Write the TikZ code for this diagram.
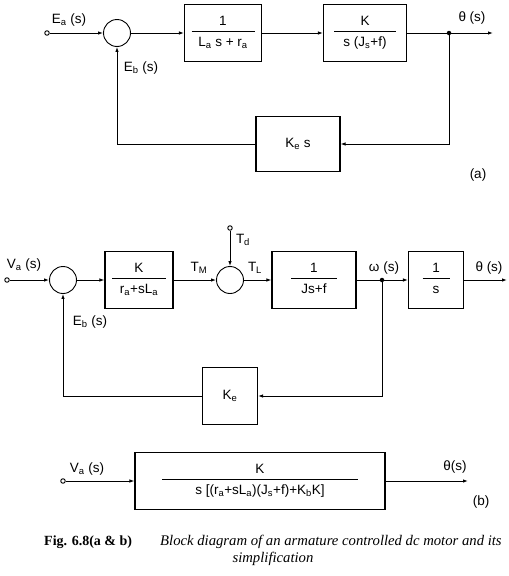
\documentclass[tikz,border=0pt]{standalone}
\usepackage{fontspec}
\setmainfont{Liberation Sans}
\newfontfamily\capfont{Liberation Serif}
\usetikzlibrary{arrows.meta}
\setlength{\arrayrulewidth}{0.7pt}
% block fraction: bar width, numerator, denominator
\newcommand{\blkfrac}[3]{\begin{tabular}{@{}c@{}}\makebox[#1]{#2}\\[1pt]\hline\rule{0pt}{14pt}#3\end{tabular}}
\begin{document}
\begin{tikzpicture}[x=1pt,y=-1pt,font=\fontsize{13.5}{15}\selectfont,
    blk/.style={draw,line width=1.1pt,minimum height=57pt,inner sep=0pt},
    summ/.style={draw,circle,line width=0.9pt,minimum size=27pt,inner sep=0pt},
    term/.style={draw,circle,line width=0.9pt,fill=white,minimum size=4.5pt,inner sep=0pt},
    brpt/.style={fill,circle,minimum size=4.5pt,inner sep=0pt},
    lbl/.style={inner sep=0pt},
    sig/.style={line width=0.9pt,-{Latex[length=5pt,width=3.5pt]}},
    wire/.style={line width=0.9pt}] % dc motor, armature control
  \useasboundingbox (0,0) rectangle (509,576);

  % (a)
  \node[summ] (suma) at (117,33) {};
  \node[blk,minimum width=77pt] (ga) at (223,33) {\blkfrac{63pt}{1}{L\textsubscript{a} s + r\textsubscript{a}}};
  \node[blk,minimum width=83pt] (gb) at (365,33) {\blkfrac{62pt}{K}{s (J\textsubscript{s}+f)}};
  \node[brpt] (bra) at (449,33) {};
  \coordinate (outa) at (493,33);
  \node[blk,minimum width=84pt,minimum height=55pt] (hka) at (298,144) {K\textsubscript{e} s};
  \draw[sig] (suma) -- (ga);
  \draw[sig] (ga) -- (gb);
  \draw[wire] (gb) -- (bra);
  \draw[sig] (bra) -- (outa);
  \draw[sig] (bra) |- (hka);
  \draw[sig] (hka) -| (suma);
  \node[term] (ina) at (47,33) {};
  \draw[sig] (ina) -- (suma);
  \node[lbl] (lea) at (69,20) {E\textsubscript{a} (s)};
  \node[lbl] (leb) at (141,68) {E\textsubscript{b} (s)};
  \node[lbl] (ltha) at (472,18) {θ (s)};
  \node[lbl] (tga) at (478,175) {(a)};

  % (b)
  \node[summ] (sumb) at (63,280) {};
  \node[blk,minimum width=68pt] (gk) at (139,280) {\blkfrac{54pt}{K}{r\textsubscript{a}+sL\textsubscript{a}}};
  \node[summ] (sumt) at (230,280) {};
  \node[blk,minimum width=84pt] (gj) at (314,280) {\blkfrac{46pt}{1}{Js+f}};
  \node[brpt] (brb) at (382,280) {};
  \node[blk,minimum width=55pt] (gi) at (436,280) {\blkfrac{27pt}{1}{s}};
  \coordinate (outb) at (507,280);
  \node[blk,minimum width=55pt] (hkb) at (230,396) {K\textsubscript{e}};
  \draw[sig] (sumb) -- (gk);
  \draw[sig] (gk) -- (sumt);
  \draw[sig] (sumt) -- (gj);
  \draw[wire] (gj) -- (brb);
  \draw[sig] (brb) -- (gi);
  \draw[sig] (gi) -- (outb);
  \draw[sig] (brb) |- (hkb);
  \draw[sig] (hkb) -| (sumb);
  \foreach \p/\x/\y in {inb/7/280,intd/230/228} {
    \node[term] (\p) at (\x,\y) {};
  };
  \draw[sig] (inb) -- (sumb);
  \draw[sig] (intd) -- (sumt);
  \node[lbl] (lva) at (24,265) {V\textsubscript{a} (s)};
  \node[lbl] (ltm) at (199,268) {T\textsubscript{M}};
  \node[lbl] (ltd) at (243,240) {T\textsubscript{d}};
  \node[lbl] (ltl) at (255,268) {T\textsubscript{L}};
  \node[lbl] (lom) at (384,268) {ω (s)};
  \node[lbl] (lthb) at (489,268) {θ (s)};
  \node[lbl] (lebb) at (90,322) {E\textsubscript{b} (s)};

  % (b), reduced
  \node[blk,minimum width=250pt] (gt) at (260,481) {\blkfrac{196pt}{K}{s [(r\textsubscript{a}+sL\textsubscript{a})(J\textsubscript{s}+f)+K\textsubscript{b}K]}};
  \node[term] (inc) at (63,481) {};
  \coordinate (outc) at (468,481);
  \draw[sig] (inc) -- (gt);
  \draw[sig] (gt) -- (outc);
  \node[lbl] (lvc) at (87,469) {V\textsubscript{a} (s)};
  \node[lbl] (lthc) at (455,467) {θ(s)};
  \node[lbl] (tgb) at (481,502) {(b)};

  % caption
  \node[lbl,anchor=west,font=\fontsize{14}{16}\capfont\bfseries] (capno) at (44,542) {Fig. 6.8(a \& b)};
  \node[lbl,anchor=west,font=\fontsize{14.7}{16}\capfont\itshape] (captx) at (160,542) {Block diagram of an armature controlled dc motor and its};
  \node[lbl,font=\fontsize{14.7}{16}\capfont\itshape] (captxb) at (273,559) {simplification};
\end{tikzpicture}
\end{document}
